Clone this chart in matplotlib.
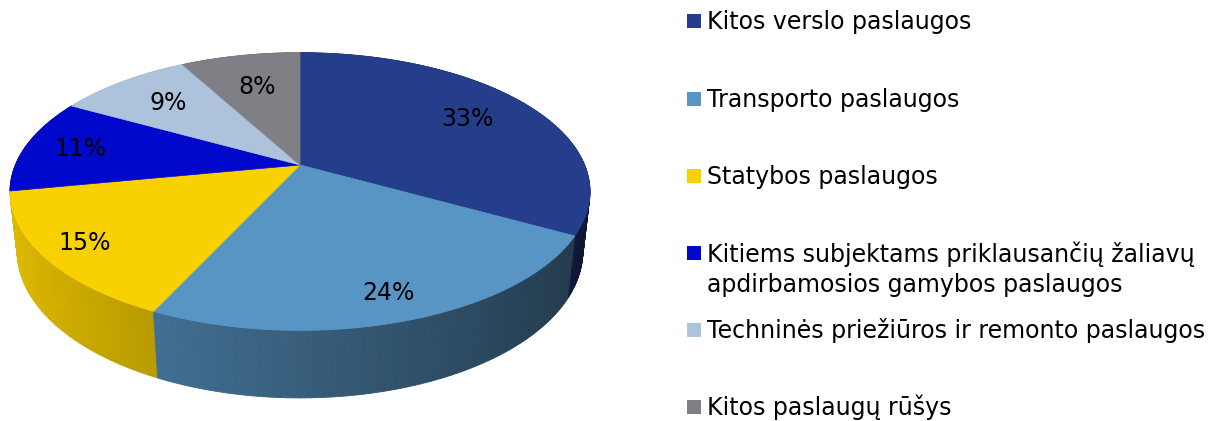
#!/usr/bin/env python3
"""
3D-style pie of service exports by type, with the legend drawn to the right.
"""

import numpy as np
import matplotlib
matplotlib.use('Agg')  # Use non-interactive backend
import matplotlib.pyplot as plt
from matplotlib.patches import Polygon, Rectangle
from matplotlib.collections import PolyCollection
from matplotlib.colors import to_rgb

# Chart data
labels = [
    "Kitos verslo paslaugos",
    "Transporto paslaugos",
    "Statybos paslaugos",
    "Kitiems subjektams priklausančių žaliavų\napdirbamosios gamybos paslaugos",
    "Techninės priežiūros ir remonto paslaugos",
    "Kitos paslaugų rūšys",
]
shares = [33, 24, 15, 11, 9, 8]
colors = ['#243E8C', '#5895C4', '#F9D000', '#0008CC', '#ADC3DC', '#7F7F86']

# Perspective settings for the tilted disc (screen pixels)
CX, CY = 300, 165          # pie apex on screen
F = 1315.0                 # focal scale
D = 4.62                   # camera distance (in pie radii)
SIN_T, COS_T = 0.47, 0.883 # tilt of the disc
DEPTH = 0.24               # thickness of the pie
label_r = [0.73, 0.85, 0.86, 0.8, 0.72, 0.68]


def project(u, v, z):
    """Project a point on the disc (u right, v back, z up) to screen pixels."""
    yc = z * COS_T + v * SIN_T
    d = D + v * COS_T - z * SIN_T
    return CX + F * u / d, CY - F * yc / d


def main():
    fig = plt.figure(figsize=(12.16, 4.21), dpi=100)
    ax = fig.add_axes([0, 0, 1, 1])

    # let matplotlib work out the slice angles, then draw them in perspective
    wedges, _ = ax.pie(shares, startangle=90, counterclock=False)
    slices = [(w.theta1, w.theta2) for w in wedges]
    for w in wedges:
        w.remove()

    ax.set_aspect('auto')
    ax.set_xlim(0, 1216)
    ax.set_ylim(421, 0)
    ax.axis('off')

    # side wall, split into thin strips so the shading can vary across it
    strips, strip_cols, strip_depth = [], [], []
    for (t1, t2), col in zip(slices, colors):
        ts = np.radians(np.linspace(t1, t2, max(int(t2 - t1), 2) + 1))
        base = np.array(to_rgb(col))
        for a, b in zip(ts[:-1], ts[1:]):
            quad = [project(np.cos(a), np.sin(a), 0),
                    project(np.cos(b), np.sin(b), 0),
                    project(np.cos(b), np.sin(b), -DEPTH),
                    project(np.cos(a), np.sin(a), -DEPTH)]
            um = np.cos((a + b) / 2)
            shade = np.clip(0.63 - 0.27 * um, 0.3, 1.0)
            strips.append(quad)
            strip_cols.append(base * shade)
            strip_depth.append(np.sin((a + b) / 2))
    order = np.argsort(strip_depth)[::-1]
    side = PolyCollection([strips[i] for i in order],
                          facecolors=[strip_cols[i] for i in order],
                          edgecolors=[strip_cols[i] for i in order],
                          linewidths=0.6)
    ax.add_collection(side)

    # top surface
    for (t1, t2), col in zip(slices, colors):
        ts = np.radians(np.linspace(t1, t2, 200))
        pts = [project(0, 0, 0)] + [project(np.cos(t), np.sin(t), 0) for t in ts]
        ax.add_patch(Polygon(pts, closed=True, facecolor=col, edgecolor=col,
                             linewidth=0.5))

    # percentage labels
    for (t1, t2), val, r in zip(slices, shares, label_r):
        mid = np.radians((t1 + t2) / 2)
        x, y = project(r * np.cos(mid), r * np.sin(mid), 0)
        ax.text(x, y, f"{val}%", ha='center', va='center', fontsize=17,
                color='black')

    # legend on the right; square sits next to the first line of each label
    rows = [21, 99, 176, 253, 330, 407]
    line_px = 31
    for lab, col, y in zip(labels, colors, rows):
        ax.add_patch(Rectangle((687, y - 7), 14, 14, facecolor=col,
                               edgecolor='none'))
        n_lines = lab.count('\n') + 1
        ax.text(707, y + 8 + line_px * (n_lines - 1), lab, ha='left',
                va='baseline', fontsize=17, linespacing=1.3, color='black')

    fig.savefig("out.png", dpi=100)
    plt.close(fig)


if __name__ == "__main__":
    main()
